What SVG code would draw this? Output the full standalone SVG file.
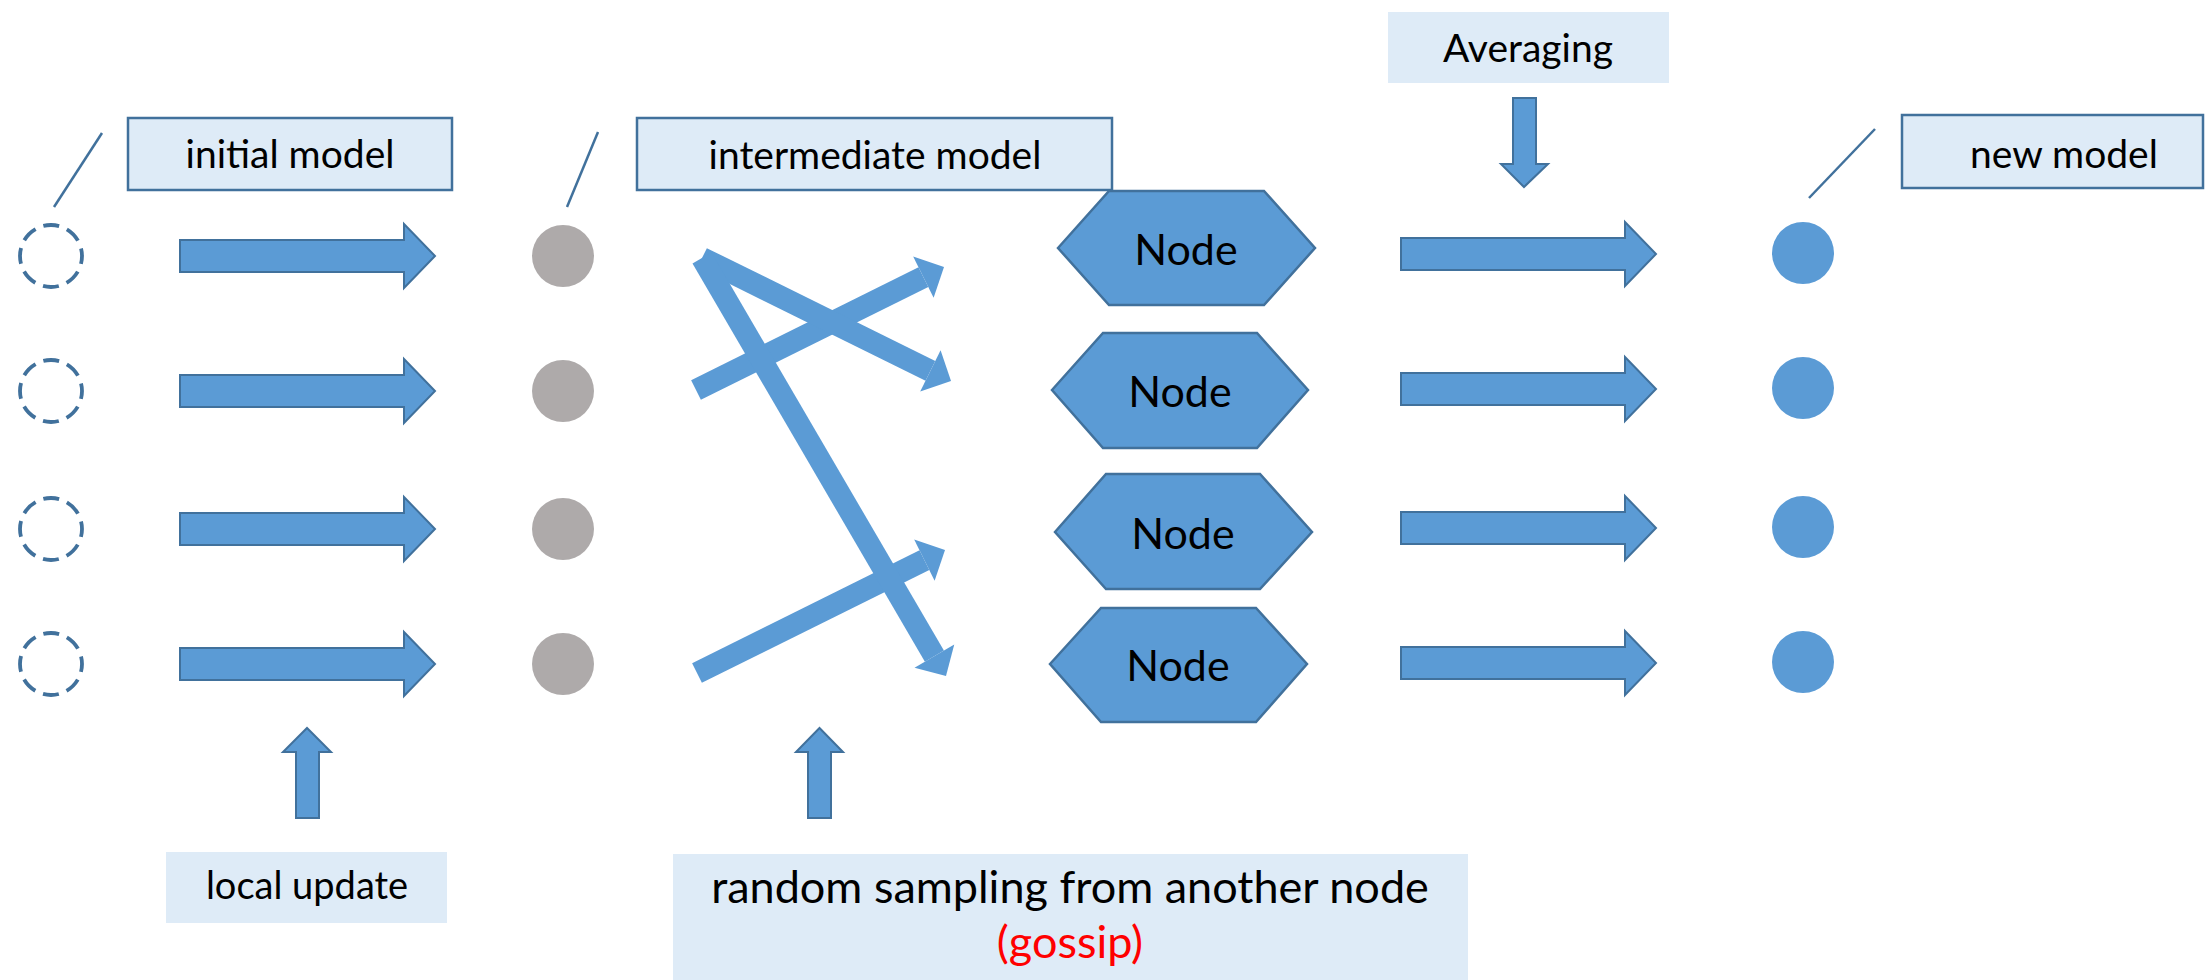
<svg xmlns="http://www.w3.org/2000/svg" xmlns:xlink="http://www.w3.org/1999/xlink" width="2206" height="980" viewBox="0 0 2206 980">
  <style>
    .lbl { font-family: Lato, "Open Sans", "Liberation Sans", sans-serif; fill: #000; text-anchor: middle; }
    .box { fill: #DEEBF7; stroke: #41719C; stroke-width: 2.5; }
    .pad { fill: #DEEBF7; }
    .blue { fill: #5B9BD5; stroke: #41719C; stroke-width: 2; }
    .hex { fill: #5B9BD5; stroke: #41719C; stroke-width: 2.5; }
    .lead { stroke: #41719C; stroke-width: 2.5; fill: none; }
    .old { fill: none; stroke: #41719C; stroke-width: 3.8; stroke-dasharray: 16 8.35; stroke-dashoffset: 8; }
    .mid { fill: #AEAAAA; }
    .new { fill: #5B9BD5; }
    .gossip { stroke: #5B9BD5; stroke-width: 22; stroke-linecap: butt; fill: none; marker-end: url(#gh); }
  </style>
  <defs>
    <!-- horizontal block arrow, origin at left end of shaft centre -->
    <path id="blk" d="M0,-16 H224 V-32 L255,0 L224,32 V16 H0 Z"/>
    <!-- triangular head for the thick gossip lines -->
    <marker id="gh" markerUnits="userSpaceOnUse" markerWidth="30" markerHeight="50" viewBox="0 0 30 50" refX="0" refY="25" orient="auto" overflow="visible">
      <path d="M0,2 L23,25 L0,48 Z" fill="#5B9BD5"/>
    </marker>
  </defs>

  <!-- callout labels -->
  <g id="label-initial">
    <line class="lead" x1="102" y1="133" x2="54" y2="207"/>
    <rect class="box" x="128" y="118" width="324" height="72"/>
    <text class="lbl" x="290" y="168" font-size="39">initial model</text>
  </g>
  <g id="label-intermediate">
    <line class="lead" x1="598" y1="132" x2="567" y2="207"/>
    <rect class="box" x="637" y="118" width="475" height="72"/>
    <text class="lbl" x="875" y="169" font-size="39">intermediate model</text>
  </g>
  <g id="label-new">
    <line class="lead" x1="1875" y1="129" x2="1809" y2="198"/>
    <rect class="box" x="1902" y="115" width="301" height="73"/>
    <text class="lbl" x="2064" y="168" font-size="39">new model</text>
  </g>
  <g id="label-averaging">
    <rect class="pad" x="1388" y="12" width="281" height="71"/>
    <text class="lbl" x="1528" y="62" font-size="39">Averaging</text>
  </g>
  <g id="label-local">
    <rect class="pad" x="166" y="852" width="281" height="71"/>
    <text class="lbl" x="307" y="899" font-size="38">local update</text>
  </g>
  <g id="label-gossip">
    <rect class="pad" x="673" y="854" width="795" height="126"/>
    <text class="lbl" x="1070" y="903" font-size="45">random sampling from another node</text>
    <text class="lbl" x="1070" y="958" font-size="45" style="fill:#FF0000">(gossip)</text>
  </g>

  <!-- models before the step -->
  <g id="initial-models">
    <circle class="old" cx="51" cy="256" r="31"/>
    <circle class="old" cx="51" cy="391" r="31"/>
    <circle class="old" cx="51" cy="529" r="31"/>
    <circle class="old" cx="51" cy="664" r="31"/>
  </g>
  <g id="intermediate-models">
    <circle class="mid" cx="563" cy="256" r="31"/>
    <circle class="mid" cx="563" cy="391" r="31"/>
    <circle class="mid" cx="563" cy="529" r="31"/>
    <circle class="mid" cx="563" cy="664" r="31"/>
  </g>
  <g id="new-models">
    <circle class="new" cx="1803" cy="253" r="31"/>
    <circle class="new" cx="1803" cy="388" r="31"/>
    <circle class="new" cx="1803" cy="527" r="31"/>
    <circle class="new" cx="1803" cy="662" r="31"/>
  </g>

  <!-- nodes -->
  <g id="node-1">
    <polygon class="hex" points="1058,248 1109,191 1264,191 1315,248 1264,305 1109,305"/>
    <text class="lbl" x="1186" y="265" font-size="43">Node</text>
  </g>
  <g id="node-2">
    <polygon class="hex" points="1052,390 1103,333 1257,333 1308,390 1257,448 1103,448"/>
    <text class="lbl" x="1180" y="407" font-size="43">Node</text>
  </g>
  <g id="node-3">
    <polygon class="hex" points="1055,532 1106,474 1260,474 1312,532 1260,589 1106,589"/>
    <text class="lbl" x="1183" y="549" font-size="43">Node</text>
  </g>
  <g id="node-4">
    <polygon class="hex" points="1050,664 1101,608 1256,608 1307,664 1256,722 1101,722"/>
    <text class="lbl" x="1178" y="681" font-size="43">Node</text>
  </g>

  <!-- connectors -->
  <g id="connectors">
    <!-- local update arrows -->
    <use xlink:href="#blk" href="#blk" class="blue" x="180" y="256"/>
    <use xlink:href="#blk" href="#blk" class="blue" x="180" y="391"/>
    <use xlink:href="#blk" href="#blk" class="blue" x="180" y="529"/>
    <use xlink:href="#blk" href="#blk" class="blue" x="180" y="664"/>
    <!-- averaging arrows -->
    <use xlink:href="#blk" href="#blk" class="blue" x="1401" y="254"/>
    <use xlink:href="#blk" href="#blk" class="blue" x="1401" y="389"/>
    <use xlink:href="#blk" href="#blk" class="blue" x="1401" y="528"/>
    <use xlink:href="#blk" href="#blk" class="blue" x="1401" y="663"/>
    <!-- gossip exchanges -->
    <line class="gossip" x1="696" y1="390" x2="923.4" y2="277.2"/>
    <line class="gossip" x1="697" y1="673" x2="924.4" y2="560.2"/>
    <line class="gossip" x1="702" y1="258" x2="930.4" y2="370.8"/>
    <line class="gossip" x1="702" y1="258" x2="934.4" y2="656.1"/>
    <!-- pointer arrows from the step labels -->
    <path class="blue" d="M296,818 V752 H283 L307,728 L331,752 H319 V818 Z"/>
    <path class="blue" d="M808,818 V752 H796 L819.5,728 L843,752 H831 V818 Z"/>
    <path class="blue" d="M1513,98 V164 H1501 L1524,187 L1548,164 H1536 V98 Z"/>
  </g>
</svg>
